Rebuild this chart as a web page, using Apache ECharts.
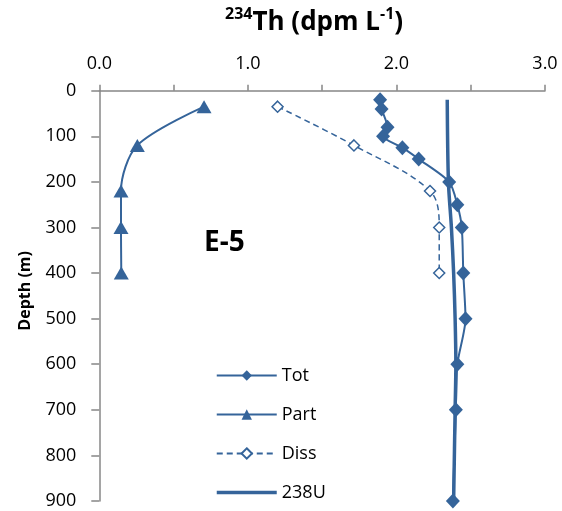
<!DOCTYPE html>
<html>
<head>
<meta charset="utf-8">
<script src="https://cdn.jsdelivr.net/npm/echarts@6/dist/echarts.min.js"></script>
<style>html,body{margin:0;padding:0;background:#fff;}#c{width:562px;height:511px;}</style>
</head>
<body>
<div id="c"></div>
<script>
// Depth (m) for each series
const totDepth = [20, 40, 80, 100, 125, 150, 200, 250, 300, 400, 500, 600, 700, 900];
const totTh = [1.89, 1.90, 1.94, 1.91, 2.04, 2.15, 2.355, 2.41, 2.44, 2.45, 2.465, 2.41, 2.40, 2.38];
const partDepth = [35, 120, 220, 300, 400];
const partTh = [0.705, 0.256, 0.146, 0.146, 0.148];
const dissDepth = [35, 120, 220, 300, 400];
const dissTh = [1.20, 1.714, 2.226, 2.288, 2.288];
const uDepth = [20, 200, 300, 400, 500, 600, 700, 900];
const u238 = [2.342, 2.35, 2.37, 2.385, 2.395, 2.40, 2.395, 2.385];
const xTicks = [0, 1, 2, 3];

const C = '#35649a';
const FONT = 'Open Sans';
const pairs = (xs, ys) => xs.map((x, i) => [x, ys[i]]);

const chart = echarts.init(document.getElementById('c'), null, {renderer: 'canvas'});
chart.setOption({
  animation: false,
  backgroundColor: '#ffffff',
  textStyle: {fontFamily: FONT},
  title: {
    left: 220, top: 1,
    text: '{sup|234}{b|Th (dpm L}{sup|-1}{b|)}',
    textStyle: {
      rich: {
        b: {fontFamily: FONT, fontWeight: 'bold', fontSize: 26, color: '#000', lineHeight: 34},
        sup: {fontFamily: FONT, fontWeight: 'bold', fontSize: 16, color: '#000', verticalAlign: 'top', lineHeight: 34, padding: [0, 0, 11, 0]}
      }
    }
  },
  graphic: [{
    type: 'text', left: 204, top: 229,
    style: {text: 'E-5', fontFamily: FONT, fontWeight: 'bold', fontSize: 28, fill: '#000'}
  }],
  legend: {
    orient: 'vertical', left: 210, top: 360, height: 150,
    itemWidth: 60, itemHeight: 13, itemGap: 18,
    textStyle: {fontFamily: FONT, fontSize: 18, color: '#000', lineHeight: 21},
    data: ['Tot', 'Part', 'Diss', {name: '238U', itemStyle: {opacity: 0}, lineStyle: {width: 3.5}}]
  },
  grid: {left: 99.3, top: 90.7, right: 17, bottom: 10, containLabel: false},
  xAxis: {
    type: 'value', position: 'top', min: 0, max: 3, interval: 0.5,
    axisLine: {show: true, lineStyle: {color: '#878787', width: 1.5}},
    axisTick: {show: true, inside: false, length: 6, lineStyle: {color: '#878787', width: 1.5}},
    axisLabel: {
      margin: 18, fontSize: 18, color: '#000', fontFamily: FONT,
      formatter: v => (xTicks.indexOf(v) >= 0 ? v.toFixed(1) : '')
    },
    splitLine: {show: false}
  },
  yAxis: {
    type: 'value', inverse: true, min: 0, max: 900, interval: 100,
    name: 'Depth (m)', nameLocation: 'middle', nameRotate: 90, nameGap: 66,
    nameTextStyle: {fontFamily: FONT, fontWeight: 'bold', fontSize: 16, color: '#000', padding: [0, 0, 0, 10]},
    axisLine: {show: true, lineStyle: {color: '#878787', width: 1.5}},
    axisTick: {show: true, inside: false, length: 8, lineStyle: {color: '#878787', width: 1.5}},
    axisLabel: {margin: 23, fontSize: 18, color: '#000', fontFamily: FONT},
    splitLine: {show: false}
  },
  series: [
    {
      name: 'Tot', type: 'line', data: pairs(totTh, totDepth),
      smooth: 0.25, symbol: 'diamond', symbolSize: [14, 15],
      itemStyle: {color: C}, lineStyle: {color: C, width: 2}, z: 4
    },
    {
      name: 'Part', type: 'line', data: pairs(partTh, partDepth),
      smooth: 0.3, symbol: 'triangle', symbolSize: [15, 13],
      itemStyle: {color: C}, lineStyle: {color: C, width: 2}, z: 3
    },
    {
      name: 'Diss', type: 'line', data: pairs(dissTh, dissDepth),
      smooth: 0.35, symbol: 'diamond', symbolSize: 11,
      itemStyle: {color: '#fff', borderColor: C, borderWidth: 1.5},
      lineStyle: {color: C, width: 1.5, type: [6, 4]}, z: 3
    },
    {
      name: '238U', type: 'line', data: pairs(u238, uDepth),
      smooth: 0.3, showSymbol: false, symbol: 'none',
      itemStyle: {color: C}, lineStyle: {color: C, width: 3.5}, z: 2
    }
  ]
});
</script>
</body>
</html>
